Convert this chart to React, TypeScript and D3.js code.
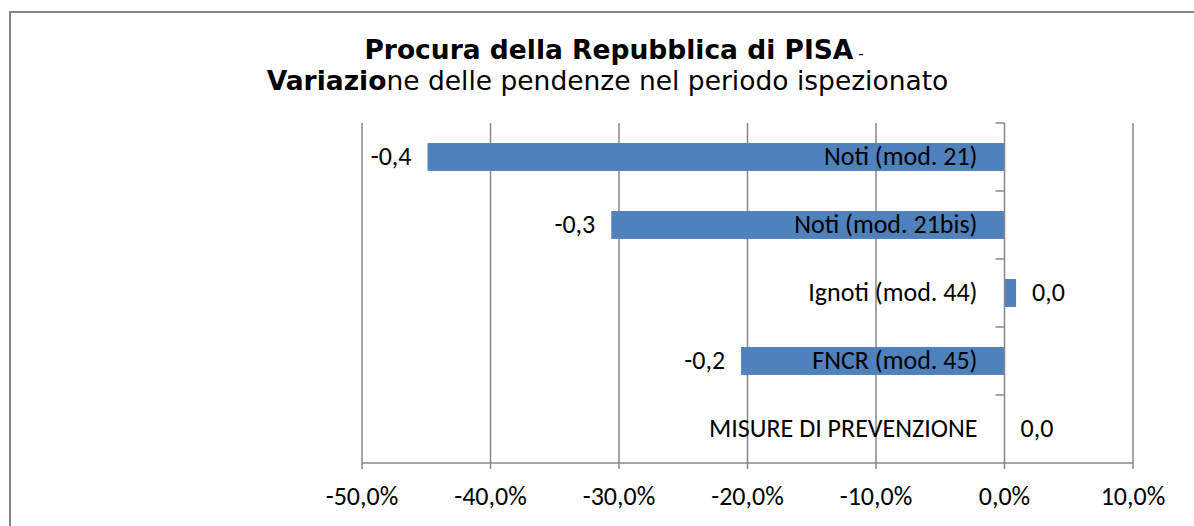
import * as d3 from 'd3';

// Chart data
const categories = [
  'Noti (mod. 21)',
  'Noti (mod. 21bis)',
  'Ignoti (mod. 44)',
  'FNCR (mod. 45)',
  'MISURE DI PREVENZIONE',
];
const variazione = [-0.449, -0.306, 0.009, -0.205, 0];
const xTicks = [-0.5, -0.4, -0.3, -0.2, -0.1, 0, 0.1];

const titleBold = 'Procura della Repubblica di PISA';
const subtitleBold = 'Variazio';
const subtitleRest = 'ne delle pendenze nel periodo ispezionato';

const itLocale = d3.formatLocale({
  decimal: ',',
  thousands: '.',
  grouping: [3],
  currency: ['€', ''],
  minus: '-',
});
const fmtPct = itLocale.format('.1%');
const fmtVal = itLocale.format('.1f');

const W = 1194;
const H = 526;
const labelFont = "'Liberation Sans Narrow', Carlito, Calibri, 'Arial Narrow', sans-serif";
const titleFont = "'DejaVu Sans', Verdana, sans-serif";
const grid = '#878787';
const barColor = '#4F81BD';

export default function App() {
  const x = d3.scaleLinear().domain([-0.5, 0.1]).range([362, 1133]);
  const y = d3.scaleBand<string>().domain(categories).range([123, 463]);
  const barH = y.bandwidth() * 0.41;
  const x0 = x(0);
  const yBottom = 463;
  const yTop = 123;

  return (
    <div style={{ position: 'absolute', left: 0, top: 0 }}>
      <svg width={W} height={H} style={{ display: 'block', background: '#fff' }}>
        {/* chart frame */}
        <rect x={10} y={12} width={1300} height={700} fill="#fff" stroke="#868686" strokeWidth={2} />

        {/* title */}
        <text x={614} y={59} textAnchor="middle" fontFamily={titleFont} fontSize={26.5} fill="#000">
          <tspan fontWeight="bold">{titleBold}</tspan>
          <tspan fontSize={15}>{' -'}</tspan>
        </text>
        <text x={607.5} y={90} textAnchor="middle" fontFamily={titleFont} fontSize={26.5} fill="#000">
          <tspan fontWeight="bold">{subtitleBold}</tspan>
          <tspan>{subtitleRest}</tspan>
        </text>

        {/* vertical gridlines */}
        {xTicks.filter(t => t !== 0).map(t => (
          <line key={`g${t}`} x1={x(t)} x2={x(t)} y1={yTop} y2={yBottom} stroke={grid} strokeWidth={1.5} />
        ))}

        {/* x axis */}
        <line x1={x(-0.5)} x2={x(0.1)} y1={yBottom} y2={yBottom} stroke={grid} strokeWidth={1.5} />
        {xTicks.map(t => (
          <g key={`t${t}`}>
            <line x1={x(t)} x2={x(t)} y1={yBottom} y2={yBottom + 6} stroke={grid} strokeWidth={1.5} />
            <text x={x(t)} y={505} textAnchor="middle" fontFamily={labelFont} fontSize={26} fill="#000">
              {fmtPct(t)}
            </text>
          </g>
        ))}

        {/* bars */}
        {categories.map((c, i) => {
          const v = variazione[i];
          const cy = (y(c) || 0) + y.bandwidth() / 2;
          return (
            <rect
              key={`b${c}`}
              x={Math.min(x(v), x0)}
              y={cy - barH / 2}
              width={Math.abs(x(v) - x0)}
              height={barH}
              fill={barColor}
            />
          );
        })}

        {/* category axis */}
        <line x1={x0} x2={x0} y1={yTop} y2={yBottom} stroke={grid} strokeWidth={1.5} />
        {categories.map(c => y(c) || 0).map((yy, i) => (
          <line key={`ct${i}`} x1={x0 - 9} x2={x0} y1={yy} y2={yy} stroke={grid} strokeWidth={1.5} />
        ))}
        {categories.map(c => (
          <text
            key={`cl${c}`}
            x={x0 - 27}
            y={(y(c) || 0) + y.bandwidth() / 2}
            dy="0.32em"
            textAnchor="end"
            fontFamily={labelFont}
            fontSize={26}
            fill="#000"
          >
            {c}
          </text>
        ))}

        {/* value labels */}
        {categories.map((c, i) => {
          const v = variazione[i];
          const neg = v < 0;
          return (
            <text
              key={`vl${c}`}
              x={neg ? x(v) - 16 : x(v) + 16}
              y={(y(c) || 0) + y.bandwidth() / 2}
              dy="0.32em"
              textAnchor={neg ? 'end' : 'start'}
              fontFamily={labelFont}
              fontSize={26}
              fill="#000"
            >
              {fmtVal(v)}
            </text>
          );
        })}
      </svg>
    </div>
  );
}
